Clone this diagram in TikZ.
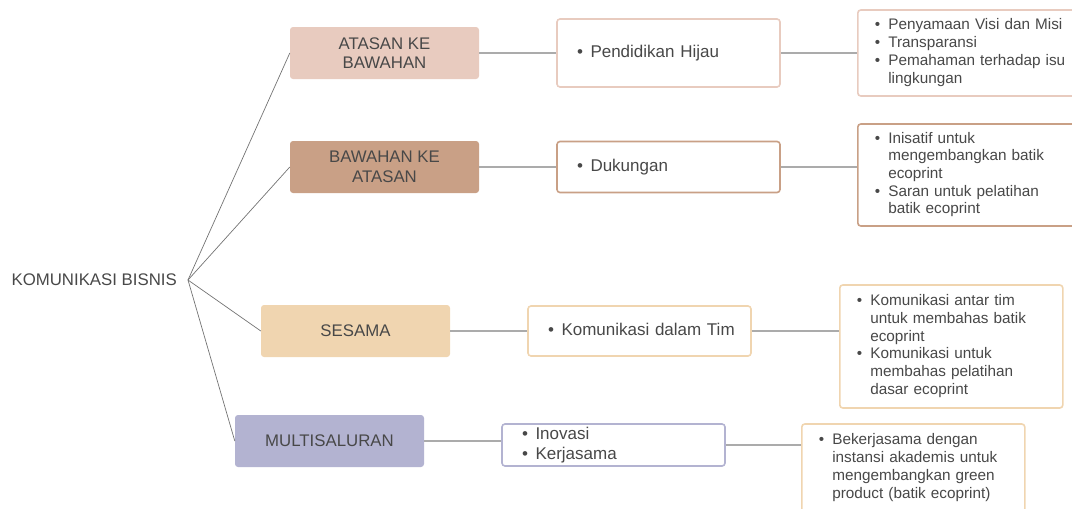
\documentclass[tikz,border=0pt]{standalone}
\usepackage{fontspec}
\setmainfont{Liberation Sans}
\usetikzlibrary{positioning}
\definecolor{atasanclr}{HTML}{E8CBBF}
\definecolor{bawahanclr}{HTML}{C9A086}
\definecolor{sesamaclr}{HTML}{F0D5B0}
\definecolor{multiclr}{HTML}{B3B3D1}
\definecolor{inkclr}{HTML}{484848}
\definecolor{linkclr}{HTML}{ABABAB}
\newcommand{\bul}{\makebox[13.5pt][l]{\textbullet}}
\newcommand{\ind}{\hspace*{13.5pt}}
\newcommand{\entries}[1]{\begin{tabular}{@{}l@{}}#1\end{tabular}}

\begin{document}
\begin{tikzpicture}[
            x=1pt, y=-1pt,
            text=inkclr,
            group/.style={rectangle, rounded corners=3pt, fill=#1, minimum width=189pt, minimum height=52pt, align=center, font=\fontsize{16.8}{19.5}\selectfont},
            topic/.style={rectangle, rounded corners=3pt, draw=#1, line width=1.6pt, fill=white, inner xsep=20pt, text width=183pt, align=left, font=\fontsize{17}{20}\selectfont},
            detail/.style={rectangle, rounded corners=3pt, draw=#1, line width=1.6pt, fill=white, inner xsep=17pt, text width=189pt, align=left, font=\fontsize{15.3}{17.7}\selectfont},
            link/.style={draw=linkclr, line width=1.3pt},
            rootlink/.style={draw=black!55, line width=.7pt},
        ]
            \path[use as bounding box] (0, 0) rectangle (1072, 509);
            \clip (0, 0) rectangle (1072, 509);
            % root
            \node[anchor=east, inner xsep=11pt, font=\fontsize{16.8}{19.5}\selectfont] (root) at (188, 280) {KOMUNIKASI BISNIS};
            % groups
            \node[group=atasanclr] (atasan) at (384.5, 53) {ATASAN KE\\BAWAHAN};
            \node[group=bawahanclr] (bawahan) at (384.5, 167) {BAWAHAN KE\\ATASAN};
            \node[group=sesamaclr] (sesama) at (355.5, 331) {SESAMA};
            \node[group=multiclr] (multi) at (329.5, 441) {MULTISALURAN};
            % topics
            \node[topic=atasanclr, minimum height=68pt, right=77pt of atasan] (hijau) {\entries{\bul Pendidikan Hijau}};
            \node[topic=bawahanclr, minimum height=51pt, right=77pt of bawahan] (dukungan) {\entries{\bul Dukungan}};
            \node[topic=sesamaclr, minimum height=50pt, right=77pt of sesama] (tim) {\entries{\bul Komunikasi dalam Tim}};
            \node[topic=multiclr, minimum height=42pt, inner ysep=1pt, right=77pt of multi, yshift=-4pt] (inovasi) {\entries{\bul Inovasi\\\bul Kerjasama}};
            % details
            \node[detail=atasanclr, minimum height=86pt, anchor=west] (visi) at (857, 53) {\entries{\bul Penyamaan Visi dan Misi\\\bul Transparansi\\\bul Pemahaman terhadap isu\\\ind lingkungan}};
            \node[detail=bawahanclr, minimum height=102pt, anchor=west] (inisiatif) at (857, 175) {\entries{\bul Inisatif untuk\\\ind mengembangkan batik\\\ind ecoprint\\\bul Saran untuk pelatihan\\\ind batik ecoprint}};
            \node[detail=sesamaclr, minimum height=123pt, anchor=west] (antartim) at (839, 346.5) {\entries{\bul Komunikasi antar tim\\\ind untuk membahas batik\\\ind ecoprint\\\bul Komunikasi untuk\\\ind membahas pelatihan\\\ind dasar ecoprint}};
            \node[detail=sesamaclr, minimum height=88pt, anchor=west] (akademis) at (801, 468) {\entries{\bul Bekerjasama dengan\\\ind instansi akademis untuk\\\ind mengembangkan green\\\ind product (batik ecoprint)}};
            % connectors
            \foreach \g in {atasan, bawahan, sesama, multi}
                \draw[rootlink] (root.east) -- (\g.west);
            \draw[link] (atasan) -- (hijau);
            \draw[link] (bawahan) -- (dukungan);
            \draw[link] (sesama) -- (tim);
            \draw[link] (multi.east) -- (multi.east -| inovasi.west);
            \draw[link] (hijau.east) -- (hijau.east -| visi.west);
            \draw[link] (dukungan.east) -- (dukungan.east -| inisiatif.west);
            \draw[link] (tim.east) -- (tim.east -| antartim.west);
            \draw[link] (inovasi.east) -- (inovasi.east -| akademis.west);
        \end{tikzpicture}
\end{document}
